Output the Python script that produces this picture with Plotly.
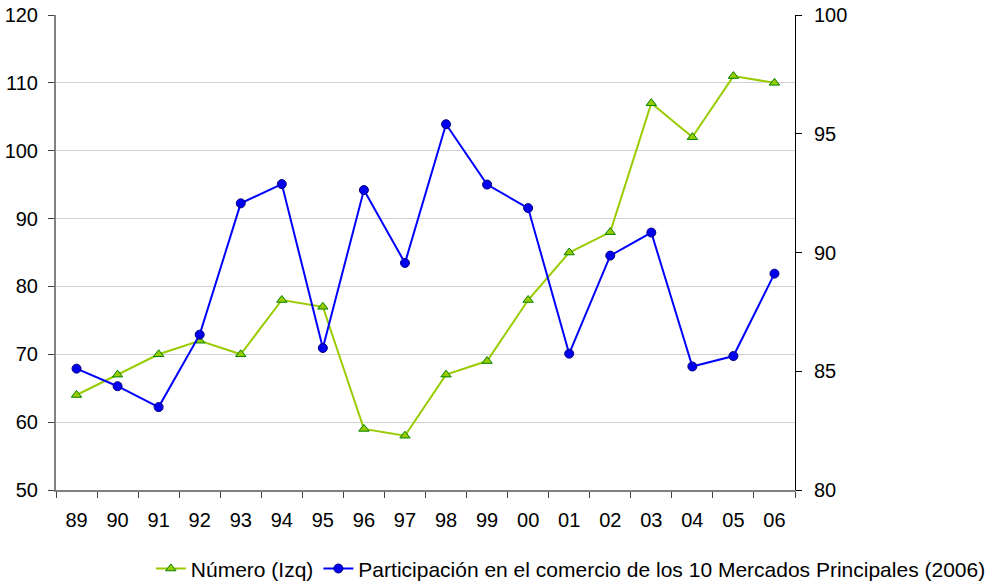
import plotly.graph_objects as go

years = ["89", "90", "91", "92", "93", "94", "95", "96", "97", "98",
         "99", "00", "01", "02", "03", "04", "05", "06"]

numero = [64, 67, 70, 72, 70, 78, 77, 59, 58, 67,
          69, 78, 85, 88, 107, 102, 111, 110]

participacion = [85.11, 84.37, 83.49, 86.54, 92.07, 92.88, 85.98, 92.63, 89.56, 95.40,
                 92.86, 91.87, 85.74, 89.87, 90.84, 85.20, 85.64, 89.11]

FONT = "Liberation Sans, Arial, sans-serif"

fig = go.Figure()

fig.add_trace(go.Scatter(
    x=years, y=numero, name="Número (Izq)", mode="lines+markers",
    line=dict(color="#99cc00", width=2),
    marker=dict(symbol="triangle-up", size=9, color="#99cc00",
                line=dict(color="#008000", width=1)),
    yaxis="y",
))

fig.add_trace(go.Scatter(
    x=years, y=participacion,
    name="Participación en el comercio de los 10 Mercados Principales (2006)",
    mode="lines+markers",
    line=dict(color="#0000ff", width=2),
    marker=dict(symbol="circle", size=9, color="#0000ee",
                line=dict(color="#000080", width=1)),
    yaxis="y2",
))

fig.update_layout(
    width=986, height=588,
    margin=dict(l=56, r=191, t=15, b=98, autoexpand=False),
    paper_bgcolor="white", plot_bgcolor="white",
    font=dict(family=FONT, size=20, color="black"),
    showlegend=True,
    legend=dict(orientation="h", x=1.265, xanchor="right", y=-0.166, yanchor="middle",
                font=dict(size=21), itemwidth=30, tracegroupgap=0,
                bgcolor="rgba(0,0,0,0)"),
    xaxis=dict(type="category", range=[-0.5, 17.5], tickson="boundaries",
               ticks="outside", ticklen=6, tickcolor="#404040",
               showline=True, linecolor="#808080", linewidth=2,
               showgrid=False, zeroline=False, fixedrange=True, automargin=False,
               tickfont=dict(size=20), ticklabelstandoff=11),
    yaxis=dict(range=[50, 120], dtick=10, ticks="outside", ticklen=6,
               tickcolor="#404040", automargin=False,
               showline=True, linecolor="#808080", linewidth=2,
               showgrid=True, gridcolor="#d0d0d0", gridwidth=1,
               zeroline=False, tickfont=dict(size=20), ticklabelstandoff=6),
    yaxis2=dict(range=[80, 100], dtick=5, overlaying="y", side="right",
                ticks="outside", ticklen=6, tickcolor="black", automargin=False,
                showline=True, linecolor="black", linewidth=1,
                showgrid=False, zeroline=False, tickfont=dict(size=20),
                ticklabelstandoff=8),
)

fig.write_html("out.html")
